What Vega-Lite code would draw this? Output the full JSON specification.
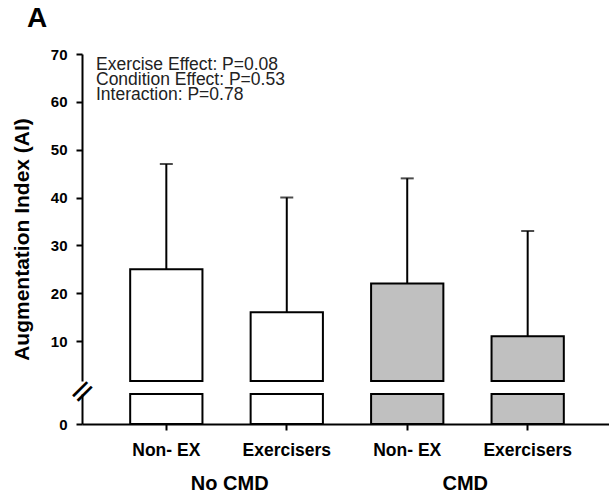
{
  "$schema": "https://vega.github.io/schema/vega-lite/v6.json",
  "background": "white",
  "padding": {"left": 11, "top": 5, "right": 0, "bottom": 0},
  "title": {"text": "A", "anchor": "start", "frame": "bounds", "fontSize": 28, "fontWeight": "bold", "font": "Liberation Sans", "color": "black", "offset": 14, "dx": 16},
  "data": {"values": [
    {"group": "No CMD", "ex": "Non- EX", "key": "No CMD|Non- EX", "mean": 25, "upper": 47},
    {"group": "No CMD", "ex": "Exercisers", "key": "No CMD|Exercisers", "mean": 16, "upper": 40},
    {"group": "CMD", "ex": "Non- EX", "key": "CMD|Non- EX", "mean": 22, "upper": 44},
    {"group": "CMD", "ex": "Exercisers", "key": "CMD|Exercisers", "mean": 11, "upper": 33}
  ]},
  "spacing": -12,
  "config": {
    "view": {"stroke": null},
    "axis": {"domainColor": "black", "tickColor": "black", "labelColor": "black", "titleColor": "black", "labelFont": "Liberation Sans", "titleFont": "Liberation Sans", "grid": false, "domainWidth": 2, "tickWidth": 2}
  },
  "vconcat": [
    {
      "width": 530,
      "height": 327,
      "title": {"text": ["Exercise Effect: P=0.08", "Condition Effect: P=0.53", "Interaction: P=0.78"], "anchor": "start", "frame": "group", "orient": "top", "baseline": "top", "offset": -56, "dx": 14, "fontSize": 17.5, "fontWeight": "normal", "font": "Liberation Sans", "color": "#222222", "lineHeight": 15},
      "encoding": {
        "x": {"field": "key", "type": "nominal", "sort": null, "scale": {"paddingInner": 0.4, "paddingOuter": 0.4}, "axis": null}
      },
      "layer": [
        {
          "mark": {"type": "rule", "stroke": "black", "strokeWidth": 2},
          "encoding": {
            "y": {"field": "mean", "type": "quantitative", "scale": {"domain": [1.64, 70], "nice": false, "zero": false, "clamp": true},
              "axis": {"values": [10, 20, 30, 40, 50, 60, 70], "title": "Augmentation Index (AI)", "titleX": -50, "titleY": 185, "titleAngle": 270, "titleAlign": "center", "titleBaseline": "bottom", "titleFontSize": 21, "titleFontWeight": "bold", "tickSize": 6, "labelFontSize": 15, "labelFontWeight": "bold", "labelPadding": 9}},
            "y2": {"field": "upper"}
          }
        },
        {
          "mark": {"type": "tick", "color": "black", "size": 13, "thickness": 2},
          "encoding": {"y": {"field": "upper", "type": "quantitative"}}
        },
        {
          "mark": {"type": "bar", "stroke": "black", "strokeWidth": 2},
          "encoding": {
            "y": {"field": "mean", "type": "quantitative"},
            "y2": {"datum": 0},
            "fill": {"field": "group", "type": "nominal", "scale": {"domain": ["No CMD", "CMD"], "range": ["#ffffff", "#c0c0c0"]}, "legend": null}
          }
        }
      ]
    },
    {
      "width": 530,
      "height": 30,
      "layer": [
        {
          "mark": {"type": "bar", "stroke": "black", "strokeWidth": 2},
          "encoding": {
            "x": {"field": "key", "type": "nominal", "sort": null, "scale": {"paddingInner": 0.4, "paddingOuter": 0.4},
              "axis": {"orient": "bottom", "labelExpr": "split(datum.label, '|')[1]", "title": null, "labelAngle": 0, "tickSize": 6, "labelFontSize": 17.5, "labelFontWeight": "bold", "labelPadding": 11}},
            "y": {"field": "mean", "type": "quantitative", "scale": {"domain": [0, 1], "nice": false, "zero": false, "clamp": true},
              "axis": {"values": [0], "title": "=", "titleX": 0, "titleY": -3, "titleAngle": -45, "titleAlign": "center", "titleBaseline": "middle", "titleFont": "DejaVu Sans", "titleFontSize": 32, "titleFontWeight": "normal", "tickSize": 6, "labelFontSize": 15, "labelFontWeight": "bold", "labelPadding": 9}},
            "y2": {"datum": 0},
            "fill": {"field": "group", "type": "nominal", "scale": {"domain": ["No CMD", "CMD"], "range": ["#ffffff", "#c0c0c0"]}, "legend": null}
          }
        },
        {
          "mark": {"type": "point", "opacity": 0},
          "encoding": {
            "x": {"field": "group", "type": "nominal", "sort": ["No CMD", "CMD"], "scale": {"type": "point", "padding": 0.625},
              "axis": {"orient": "bottom", "domain": false, "ticks": false, "tickSize": 0, "title": null, "labelAngle": 0, "labelFontSize": 20, "labelFontWeight": "bold", "labelPadding": 49}}
          }
        }
      ],
      "resolve": {"scale": {"x": "independent"}, "axis": {"x": "independent"}}
    }
  ]
}
